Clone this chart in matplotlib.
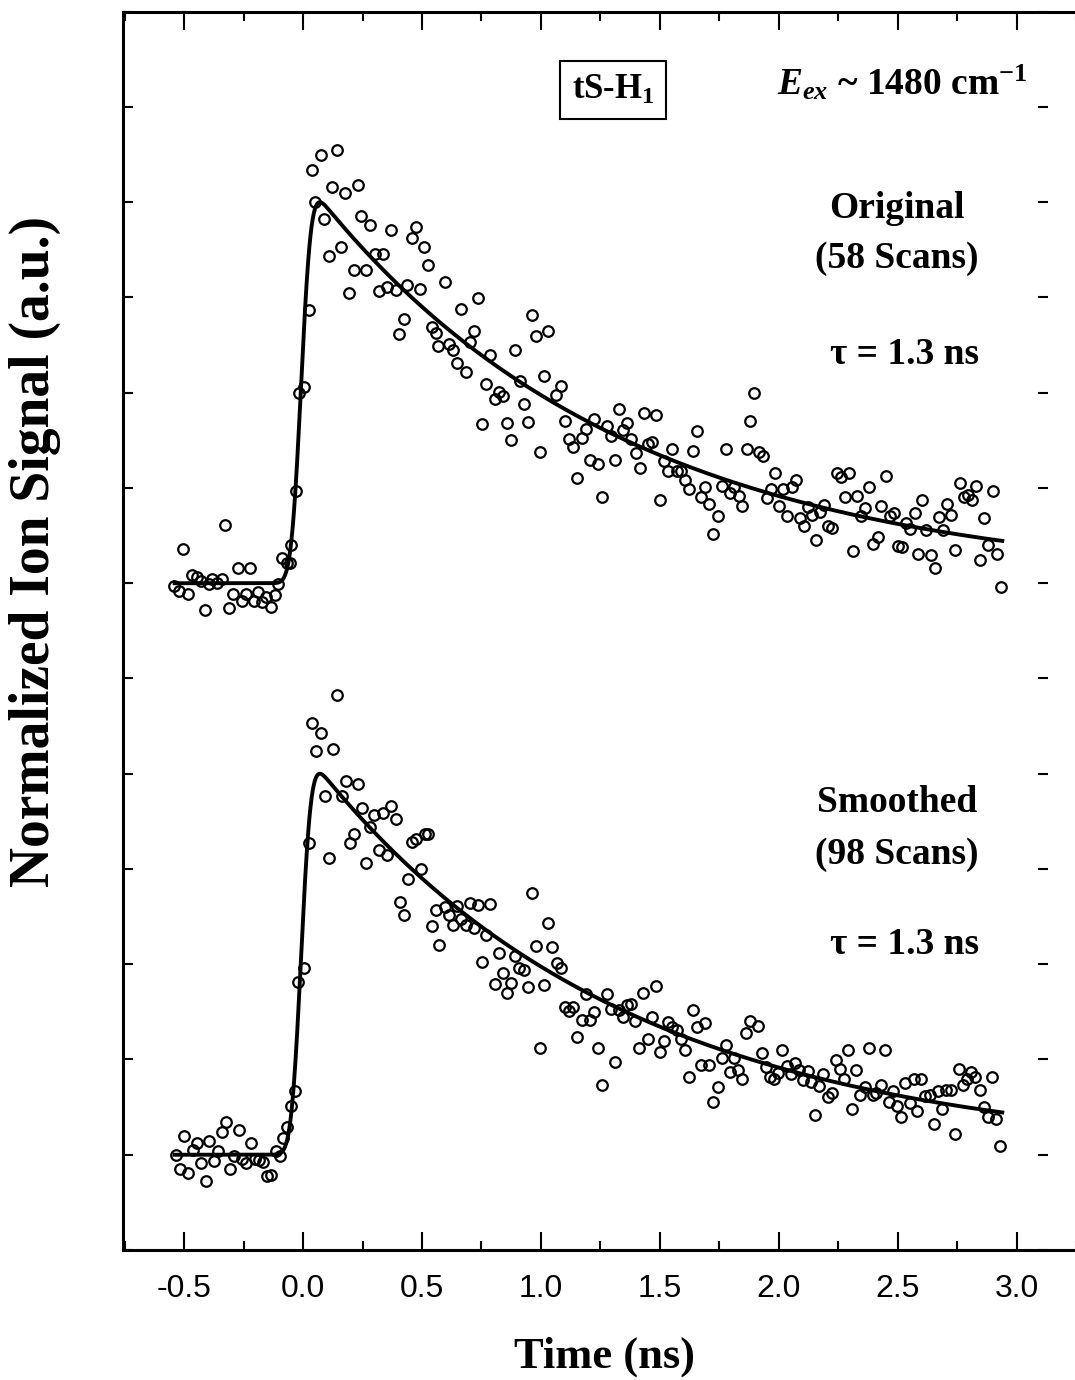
import math
import numpy as np
import matplotlib
matplotlib.use("Agg")
import matplotlib.pyplot as plt
from matplotlib.ticker import MultipleLocator

# time-resolved ion signal, normalized to the fitted peak
t_orig = [-0.542, -0.521, -0.504, -0.486, -0.469, -0.448, -0.430, -0.413, -0.395, -0.381,
          -0.364, -0.343, -0.327, -0.311, -0.294, -0.273, -0.255, -0.238, -0.224, -0.206,
          -0.189, -0.171, -0.154, -0.136, -0.118, -0.104, -0.087, -0.069, -0.055, -0.049,
          -0.031, -0.017, 0.004, 0.025, 0.036, 0.050, 0.074, 0.088, 0.109, 0.123,
          0.141, 0.158, 0.176, 0.193, 0.214, 0.231, 0.245, 0.266, 0.280, 0.302,
          0.319, 0.336, 0.354, 0.371, 0.389, 0.403, 0.424, 0.438, 0.456, 0.473,
          0.491, 0.508, 0.526, 0.540, 0.557, 0.568, 0.596, 0.613, 0.631, 0.648,
          0.665, 0.683, 0.700, 0.718, 0.735, 0.753, 0.771, 0.788, 0.806, 0.823,
          0.840, 0.858, 0.875, 0.892, 0.910, 0.927, 0.945, 0.961, 0.978, 0.997,
          1.013, 1.031, 1.065, 1.084, 1.101, 1.118, 1.136, 1.153, 1.171, 1.188,
          1.205, 1.225, 1.242, 1.258, 1.276, 1.293, 1.311, 1.327, 1.344, 1.363,
          1.380, 1.398, 1.415, 1.432, 1.450, 1.467, 1.484, 1.502, 1.518, 1.536,
          1.553, 1.571, 1.588, 1.606, 1.623, 1.640, 1.657, 1.674, 1.690, 1.707,
          1.725, 1.744, 1.760, 1.778, 1.795, 1.814, 1.831, 1.847, 1.865, 1.881,
          1.898, 1.915, 1.933, 1.950, 1.968, 1.985, 2.001, 2.019, 2.036, 2.054,
          2.071, 2.089, 2.106, 2.121, 2.138, 2.156, 2.175, 2.191, 2.208, 2.225,
          2.243, 2.260, 2.277, 2.295, 2.312, 2.329, 2.345, 2.364, 2.381, 2.398,
          2.416, 2.432, 2.450, 2.467, 2.484, 2.501, 2.518, 2.536, 2.553, 2.571,
          2.586, 2.604, 2.621, 2.639, 2.656, 2.674, 2.692, 2.709, 2.726, 2.743,
          2.761, 2.777, 2.796, 2.813, 2.829, 2.846, 2.864, 2.882, 2.899, 2.916,
          2.933]
sig_orig = [-0.007, -0.020, 0.091, -0.029, 0.021, 0.017, 0.006, -0.071, -0.001, 0.012,
            0.001, 0.012, 0.152, -0.064, -0.029, 0.041, -0.046, -0.027, 0.041, -0.046,
            -0.023, -0.049, -0.036, -0.062, -0.031, -0.001, 0.065, 0.053, 0.052, 0.100,
            0.242, 0.498, 0.515, 0.716, 1.085, 1.000, 1.125, 0.957, 0.858, 1.040,
            1.136, 0.882, 1.025, 0.762, 0.821, 1.044, 0.963, 0.821, 0.939, 0.863,
            0.767, 0.863, 0.777, 0.928, 0.770, 0.655, 0.694, 0.782, 0.907, 0.935,
            0.773, 0.882, 0.834, 0.672, 0.657, 0.622, 0.790, 0.629, 0.613, 0.578,
            0.721, 0.555, 0.633, 0.661, 0.748, 0.419, 0.524, 0.598, 0.484, 0.503,
            0.492, 0.421, 0.375, 0.611, 0.531, 0.471, 0.424, 0.703, 0.648, 0.344,
            0.544, 0.662, 0.495, 0.518, 0.426, 0.378, 0.358, 0.275, 0.380, 0.405,
            0.323, 0.431, 0.312, 0.226, 0.413, 0.387, 0.323, 0.458, 0.403, 0.421,
            0.378, 0.343, 0.303, 0.448, 0.366, 0.370, 0.441, 0.219, 0.321, 0.295,
            0.353, 0.295, 0.295, 0.270, 0.246, 0.347, 0.400, 0.226, 0.252, 0.209,
            0.130, 0.177, 0.254, 0.352, 0.237, 0.253, 0.230, 0.203, 0.352, 0.425,
            0.498, 0.344, 0.333, 0.224, 0.248, 0.289, 0.202, 0.247, 0.176, 0.253,
            0.270, 0.170, 0.151, 0.200, 0.178, 0.113, 0.187, 0.205, 0.151, 0.146,
            0.288, 0.279, 0.226, 0.289, 0.085, 0.230, 0.176, 0.197, 0.253, 0.102,
            0.122, 0.202, 0.281, 0.176, 0.185, 0.097, 0.094, 0.157, 0.141, 0.185,
            0.076, 0.218, 0.139, 0.073, 0.041, 0.174, 0.139, 0.207, 0.178, 0.087,
            0.263, 0.226, 0.231, 0.219, 0.254, 0.060, 0.170, 0.100, 0.241, 0.078,
            -0.010]

t_smooth = [-0.535, -0.518, -0.500, -0.483, -0.465, -0.444, -0.428, -0.409, -0.395, -0.376,
            -0.358, -0.343, -0.325, -0.308, -0.290, -0.271, -0.255, -0.238, -0.220, -0.202,
            -0.185, -0.167, -0.153, -0.133, -0.115, -0.098, -0.084, -0.066, -0.052, -0.034,
            -0.020, 0.004, 0.025, 0.039, 0.056, 0.074, 0.092, 0.109, 0.126, 0.144,
            0.162, 0.179, 0.196, 0.214, 0.231, 0.249, 0.266, 0.281, 0.299, 0.319,
            0.336, 0.354, 0.371, 0.389, 0.406, 0.424, 0.441, 0.456, 0.473, 0.494,
            0.511, 0.526, 0.543, 0.560, 0.571, 0.596, 0.613, 0.630, 0.648, 0.665,
            0.683, 0.700, 0.718, 0.735, 0.753, 0.770, 0.788, 0.805, 0.823, 0.840,
            0.858, 0.875, 0.892, 0.907, 0.927, 0.945, 0.961, 0.978, 0.997, 1.013,
            1.031, 1.048, 1.066, 1.084, 1.101, 1.118, 1.135, 1.153, 1.171, 1.188,
            1.206, 1.223, 1.240, 1.258, 1.276, 1.293, 1.310, 1.327, 1.344, 1.361,
            1.380, 1.397, 1.413, 1.431, 1.450, 1.467, 1.484, 1.502, 1.518, 1.536,
            1.553, 1.571, 1.588, 1.605, 1.622, 1.639, 1.657, 1.674, 1.690, 1.707,
            1.725, 1.744, 1.760, 1.777, 1.795, 1.812, 1.830, 1.844, 1.861, 1.880,
            1.914, 1.931, 1.947, 1.963, 1.982, 1.999, 2.015, 2.034, 2.051, 2.069,
            2.086, 2.104, 2.121, 2.135, 2.152, 2.170, 2.187, 2.206, 2.223, 2.239,
            2.257, 2.274, 2.292, 2.309, 2.326, 2.343, 2.362, 2.378, 2.395, 2.411,
            2.428, 2.446, 2.463, 2.481, 2.498, 2.516, 2.533, 2.550, 2.567, 2.583,
            2.600, 2.617, 2.635, 2.653, 2.670, 2.687, 2.705, 2.723, 2.740, 2.757,
            2.775, 2.793, 2.810, 2.827, 2.845, 2.863, 2.880, 2.897, 2.915, 2.932]
sig_smooth = [0.000, -0.038, 0.049, -0.047, 0.012, 0.030, -0.021, -0.068, 0.037, -0.017,
              0.010, 0.060, 0.087, -0.038, -0.003, 0.065, -0.010, -0.021, 0.030, -0.012,
              -0.014, -0.018, -0.056, -0.052, 0.010, -0.003, 0.045, 0.072, 0.128, 0.168,
              0.454, 0.491, 0.819, 1.132, 1.060, 1.108, 0.941, 0.780, 1.066, 1.206,
              0.941, 0.981, 0.817, 0.843, 0.972, 0.910, 0.767, 0.860, 0.891, 0.799,
              0.897, 0.786, 0.915, 0.882, 0.664, 0.629, 0.725, 0.821, 0.830, 0.749,
              0.841, 0.843, 0.600, 0.642, 0.550, 0.649, 0.629, 0.602, 0.652, 0.620,
              0.602, 0.661, 0.594, 0.655, 0.506, 0.576, 0.659, 0.448, 0.530, 0.476,
              0.425, 0.451, 0.522, 0.489, 0.484, 0.441, 0.687, 0.547, 0.279, 0.445,
              0.607, 0.544, 0.502, 0.489, 0.387, 0.378, 0.388, 0.310, 0.353, 0.421,
              0.353, 0.374, 0.279, 0.183, 0.421, 0.382, 0.243, 0.380, 0.362, 0.393,
              0.395, 0.352, 0.279, 0.425, 0.305, 0.362, 0.444, 0.270, 0.299, 0.349,
              0.336, 0.327, 0.303, 0.275, 0.203, 0.380, 0.334, 0.235, 0.346, 0.235,
              0.139, 0.177, 0.255, 0.288, 0.218, 0.255, 0.222, 0.200, 0.320, 0.352,
              0.338, 0.268, 0.231, 0.203, 0.198, 0.215, 0.276, 0.233, 0.212, 0.240,
              0.222, 0.196, 0.220, 0.192, 0.104, 0.180, 0.212, 0.152, 0.163, 0.248,
              0.226, 0.200, 0.275, 0.119, 0.222, 0.157, 0.177, 0.279, 0.157, 0.161,
              0.183, 0.275, 0.139, 0.168, 0.128, 0.098, 0.187, 0.135, 0.200, 0.115,
              0.200, 0.154, 0.157, 0.080, 0.168, 0.119, 0.171, 0.170, 0.054, 0.224,
              0.183, 0.198, 0.218, 0.203, 0.171, 0.126, 0.100, 0.203, 0.093, 0.023]

# single-exponential fit convolved with the instrument response
tau = 1.3        # ns
irf_sigma = 0.033
t_zero = -0.008
fit_range = (-0.54, 2.94)

offset_orig = 7.0
offset_smooth = 1.0
scale = 4.0


def decay_fit(t):
    x = t - t_zero
    erf = np.vectorize(math.erf)
    y = np.exp(irf_sigma**2 / (2 * tau**2) - x / tau) * \
        0.5 * (1 + erf((x / irf_sigma - irf_sigma / tau) / math.sqrt(2)))
    return y / y.max()


plt.rcParams["mathtext.fontset"] = "custom"
plt.rcParams["mathtext.rm"] = "Liberation Serif:bold"
plt.rcParams["mathtext.it"] = "Liberation Serif:italic:bold"
plt.rcParams["mathtext.bf"] = "Liberation Serif:bold"
plt.rcParams["axes.unicode_minus"] = False

W, H = 1075, 1380
fig = plt.figure(figsize=(W / 100, H / 100), dpi=100)
ax = fig.add_axes([123.3 / W, 1 - 1250 / H, (1076 - 123.3) / W, (1250 - 11.7) / H])

t_fit = np.linspace(fit_range[0], fit_range[1], 1500)
y_fit = decay_fit(t_fit)

for t, s, off in [(t_orig, sig_orig, offset_orig), (t_smooth, sig_smooth, offset_smooth)]:
    ax.plot(t_fit, off + scale * y_fit, color="black", lw=2.8, zorder=2)
    ax.plot(t, off + scale * np.array(s), "o", mfc="none", mec="black",
            ms=7.6, mew=1.6, zorder=3)

ax.set_xlim(-0.756, 3.25)
ax.set_ylim(0, 13)
ax.xaxis.set_major_locator(MultipleLocator(0.5))
ax.xaxis.set_minor_locator(MultipleLocator(0.25))
ax.yaxis.set_major_locator(MultipleLocator(1))
ax.tick_params(axis="x", which="major", direction="in", length=13, width=1.5,
               top=True, pad=17, labelsize=23)
ax.tick_params(axis="x", which="minor", direction="in", length=6.5, width=1.5, top=True)
ax.tick_params(axis="y", which="major", direction="in", length=7.2, width=1.5,
               left=True, right=False, labelleft=False)
for lab in ax.get_xticklabels():
    lab.set_family("Liberation Sans")
for sp in ax.spines.values():
    sp.set_linewidth(2.2)
ax.spines["right"].set_visible(False)

# right-hand tick column sits a little inside the frame edge
right_ticks = ax.secondary_yaxis(0.9706)
right_ticks.yaxis.set_major_locator(MultipleLocator(1))
right_ticks.spines["right"].set_visible(False)
right_ticks.tick_params(direction="in", length=7.2, width=1.5, labelright=False)

serif = dict(family="Liberation Serif", weight="bold", ha="center", va="center")
fig.text(35 / W, 1 - 551 / H, "Normalized Ion Signal (a.u.)", rotation=90, size=40, **serif)
fig.text(604 / W, 1 - 1357 / H, "Time (ns)", size=32, **serif)

fig.text(613 / W, 1 - 90 / H, r"tS-H$_1$", size=25,
         bbox=dict(boxstyle="square,pad=0.35", fc="white", ec="black", lw=1.5), **serif)
fig.text(777 / W, 1 - 95 / H, r"$E_{ex}$ ~ 1480 cm$^{-1}$", size=27,
         family="Liberation Serif", weight="bold", ha="left", va="baseline")

fig.text(897 / W, 1 - 208 / H, "Original", size=27, **serif)
fig.text(897 / W, 1 - 258 / H, "(58 Scans)", size=27, **serif)
fig.text(905 / W, 1 - 355 / H, "\u03c4 = 1.3 ns", size=27, **serif)
fig.text(897 / W, 1 - 803 / H, "Smoothed", size=27, **serif)
fig.text(897 / W, 1 - 855 / H, "(98 Scans)", size=27, **serif)
fig.text(905 / W, 1 - 945 / H, "\u03c4 = 1.3 ns", size=27, **serif)

fig.savefig("out.png", dpi=100)
